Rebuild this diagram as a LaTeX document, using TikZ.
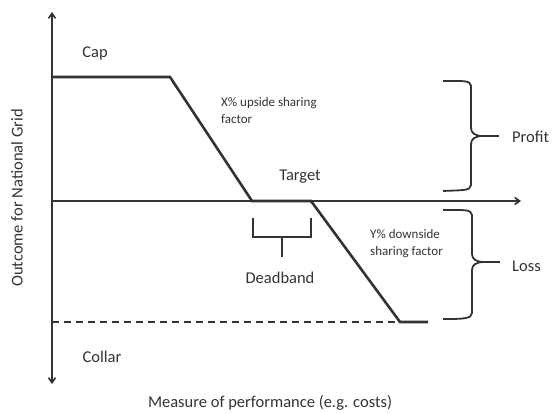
\documentclass[tikz,border=0pt]{standalone}
\usepackage{fontspec}
\setmainfont{Carlito}
\usetikzlibrary{arrows.meta}
\definecolor{ink}{HTML}{333333}
\begin{document}
\begin{tikzpicture}[x=1pt,y=-1pt,
  every node/.style={text=ink, inner sep=0pt},
  lbl/.style={font=\fontsize{16.5}{19}\selectfont},
  small/.style={font=\fontsize{13}{17.5}\selectfont, align=left, anchor=north west},
  axis/.style={draw=ink, line width=1.6pt, -{Straight Barb[length=5pt,width=7pt]}},
  payoff/.style={draw=ink, line width=2.6pt, line join=miter},
  brace/.style={draw=ink, line width=1.8pt},
  bracket/.style={draw=ink, line width=1.6pt}]
\useasboundingbox (0,0) rectangle (553,414);

% axes
\coordinate (o) at (52,201);
\coordinate (ytop) at (52,12);
\coordinate (ybot) at (52,384);
\coordinate (xend) at (521,201);
\draw[axis] (o) -- (ytop);
\draw[axis] (o) -- (ybot);
\draw[axis] (o) -- (xend);

% payoff profile
\coordinate (c0) at (52,77);
\coordinate (c1) at (170,77);
\coordinate (d0) at (252,201);
\coordinate (d1) at (311,201);
\coordinate (f0) at (400,322);
\coordinate (f1) at (428,322);
\coordinate (fl) at (52,322);
\draw[payoff] (c0) -- (c1) -- (d0) -- (d1) -- (f0) -- (f1);
\draw[draw=ink, line width=1.6pt, dash pattern=on 7pt off 5pt] (fl) -- (f0);

% deadband bracket
\coordinate (b0) at (253,218);
\coordinate (b1) at (311,218);
\coordinate (bs) at (282,257);
\draw[bracket] (b0) -- (253,237) -- (311,237) -- (b1);
\draw[bracket] (282,237) -- (bs);

% profit brace
\coordinate (pt) at (483,136);
\draw[brace] (443,81) .. controls (462,81) and (471,80) .. (471,86) -- (471,128)
  .. controls (471,133) and (475,136) .. (pt)
  .. controls (475,136) and (471,139) .. (471,144) -- (471,185)
  .. controls (471,191) and (462,190) .. (443,191);
\coordinate (pe) at (499,136);
\draw[brace] (pt) -- (pe);

% loss brace
\coordinate (lt) at (484,262);
\draw[brace] (443,210) .. controls (462,210) and (472,209) .. (472,215) -- (472,254)
  .. controls (472,259) and (476,262) .. (lt)
  .. controls (476,262) and (472,265) .. (472,270) -- (472,313)
  .. controls (472,319) and (462,319) .. (443,319);
\coordinate (le) at (500,262);
\draw[brace] (lt) -- (le);

% labels
\node[lbl] (cap) at (95,53) {Cap};
\node[lbl] (collar) at (102,357) {Collar};
\node[lbl] (target) at (300,177) {Target};
\node[lbl] (deadband) at (280,278) {Deadband};
\node[lbl, anchor=west] (profit) at (512,137) {Profit};
\node[lbl, anchor=west] (loss) at (512,266) {Loss};
\node[small] (up) at (221,97) {X\% upside sharing\\factor};
\node[small] (down) at (370,229) {Y\% downside\\sharing factor};
\node[lbl] (xlab) at (270,403) {Measure of performance (e.g. costs)};
\node[lbl, rotate=90] (ylab) at (17,198) {Outcome for National Grid};
\end{tikzpicture}
\end{document}
